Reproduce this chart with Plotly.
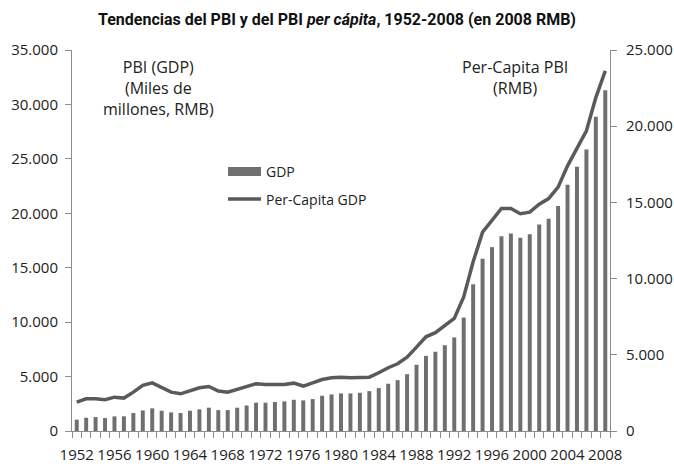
import plotly.graph_objects as go

# Years covered by the series
years = list(range(1952, 2009))

# Real GDP, thousands of millions of 2008 RMB (left axis, bars)
gdp = [
    1040, 1220, 1280, 1190, 1340, 1350, 1650, 1890, 2080, 1860,
    1710, 1650, 1860, 1990, 2140, 1920, 1920, 2140, 2350, 2600,
    2600, 2660, 2720, 2870, 2810, 2930, 3240, 3360, 3450, 3450,
    3510, 3660, 3940, 4340, 4670, 5220, 6080, 6900, 7280, 7880,
    8600, 10420, 13480, 15820, 16890, 17900, 18140, 17750, 18080, 18970,
    19490, 20680, 22630, 24280, 25870, 28860, 31310,
]

# Per-capita GDP, 2008 RMB (right axis, line)
per_capita = [
    1900, 2110, 2110, 2050, 2220, 2160, 2550, 2990, 3160, 2880,
    2550, 2440, 2660, 2840, 2920, 2620, 2550, 2730, 2950, 3100,
    3050, 3050, 3050, 3140, 2950, 3160, 3380, 3490, 3530, 3490,
    3490, 3530, 3820, 4150, 4410, 4850, 5500, 6180, 6450, 6900,
    7390, 8800, 11100, 13050, 13830, 14600, 14600, 14260, 14360, 14880,
    15250, 16000, 17400, 18500, 19700, 21880, 23630,
]

x_tick_years = list(range(1952, 2009, 4))
left_ticks = list(range(0, 35001, 5000))
right_ticks = list(range(0, 25001, 5000))

W, H = 674, 464
ML, MR, MT, MB = 72, 64, 50, 33
PW, PH = W - ML - MR, H - MT - MB

BAR_COLOR = "#6f6f6f"
LINE_COLOR = "#5a5a5a"
AXIS_COLOR = "#8c8c8c"
FONT = "Open Sans, Noto Sans, sans-serif"


def px_x(px):
    return (px - ML) / PW


def px_y(py):
    return (H - MB - py) / PH


fig = go.Figure()
fig.add_trace(go.Bar(
    x=years, y=gdp, name="GDP", marker=dict(color=BAR_COLOR, line=dict(width=0)),
    yaxis="y", showlegend=False,
))
fig.add_trace(go.Scatter(
    x=years, y=per_capita, name="Per-Capita GDP", mode="lines",
    line=dict(color=LINE_COLOR, width=3.5), yaxis="y2", showlegend=False,
))

axis_common = dict(
    showgrid=False, zeroline=False, showline=True, linecolor=AXIS_COLOR, linewidth=1,
    ticks="outside", tickcolor=AXIS_COLOR, ticklen=6, automargin=False,
    tickfont=dict(family=FONT, size=15, color="#222222"), tickformat=",d",
)

fig.update_layout(
    width=W, height=H, margin=dict(l=ML, r=MR, t=MT, b=MB),
    paper_bgcolor="white", plot_bgcolor="white",
    separators=",.",
    bargap=0.58,
    showlegend=False,
    title=dict(
        text="Tendencias del PBI y del PBI <i>per cápita</i>, 1952-2008 (en 2008 RMB)",
        x=0.5, xref="container", xanchor="center",
        y=1 - 19 / H, yref="container", yanchor="middle",
        font=dict(family="Roboto, sans-serif", size=16, color="#111111", weight="bold"),
    ),
    xaxis=dict(
        range=[1951.5, 2008.5], showgrid=False, zeroline=False, automargin=False,
        showline=True, linecolor=AXIS_COLOR, linewidth=1,
        tickvals=x_tick_years, ticktext=[str(y) for y in x_tick_years],
        ticks="", ticklabelstandoff=10,
        tickfont=dict(family=FONT, size=15, color="#222222"),
        minor=dict(ticks="outside", tick0=1951.5, dtick=1, ticklen=6, tickcolor=AXIS_COLOR),
    ),
    yaxis=dict(range=[0, 35000], tickvals=left_ticks, ticklabelstandoff=4, **axis_common),
    yaxis2=dict(range=[0, 25000], tickvals=right_ticks, overlaying="y", side="right",
                ticklabelstandoff=6, **axis_common),
)

# Axis captions
fig.add_annotation(
    text="PBI (GDP)<br>(Miles de<br>millones, RMB)", xref="paper", yref="paper",
    x=px_x(158), y=px_y(88), xanchor="center", yanchor="middle", showarrow=False,
    align="center", font=dict(family=FONT, size=16, color="#222222"),
)
fig.add_annotation(
    text="Per-Capita PBI<br>(RMB)", xref="paper", yref="paper",
    x=px_x(515), y=px_y(77), xanchor="center", yanchor="middle", showarrow=False,
    align="center", font=dict(family=FONT, size=16, color="#222222"),
)

# Legend
fig.add_shape(type="rect", xref="paper", yref="paper",
              x0=px_x(228), x1=px_x(261), y0=px_y(176), y1=px_y(167),
              fillcolor=BAR_COLOR, line=dict(width=0))
fig.add_shape(type="line", xref="paper", yref="paper",
              x0=px_x(228), x1=px_x(261), y0=px_y(199), y1=px_y(199),
              line=dict(color=LINE_COLOR, width=3.5))
fig.add_annotation(text="GDP", xref="paper", yref="paper", x=px_x(264), y=px_y(171),
                   xanchor="left", yanchor="middle", showarrow=False,
                   font=dict(family=FONT, size=14, color="#222222"))
fig.add_annotation(text="Per-Capita GDP", xref="paper", yref="paper", x=px_x(264), y=px_y(199),
                   xanchor="left", yanchor="middle", showarrow=False,
                   font=dict(family=FONT, size=14, color="#222222"))

fig.write_html("out.html")
